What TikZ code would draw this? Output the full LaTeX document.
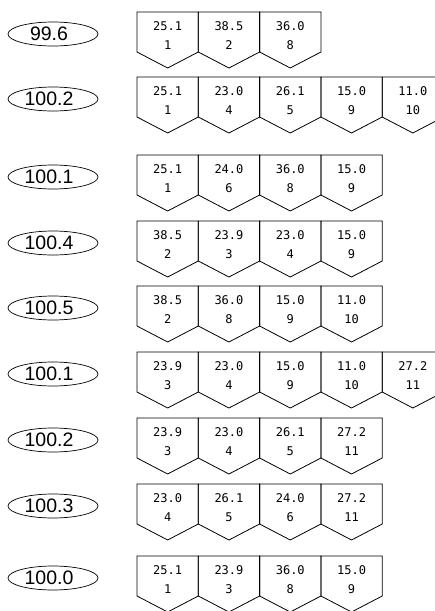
\documentclass[tikz,border=0pt]{standalone}
\usepackage{fontspec}
\usetikzlibrary{shapes.geometric}
\newfontfamily\cellfont{DejaVu Sans Mono}
\newfontfamily\ellfont{Liberation Sans}
\begin{document}
\begin{tikzpicture}[x=1pt,y=-1pt, line width=0.8pt,
  cellbox/.style={draw=black, line join=miter},
  celltext/.style={font=\cellfont\fontsize{12}{12}\selectfont, inner sep=0pt},
  scorebox/.style={draw, line width=0.7pt, ellipse, minimum width=90pt, minimum height=24pt, inner sep=0pt},
  scoretext/.style={font=\ellfont\fontsize{19.5}{19.5}\selectfont, inner sep=0pt}]
\useasboundingbox (0,0) rectangle (435,611);
\foreach \t/\s/\lst [count=\r] in {
  12/99.6/{25.1/1,38.5/2,36.0/8},
  77/100.2/{25.1/1,23.0/4,26.1/5,15.0/9,11.0/10},
  155/100.1/{25.1/1,24.0/6,36.0/8,15.0/9},
  221/100.4/{38.5/2,23.9/3,23.0/4,15.0/9},
  286/100.5/{38.5/2,36.0/8,15.0/9,11.0/10},
  352/100.1/{23.9/3,23.0/4,15.0/9,11.0/10,27.2/11},
  418/100.2/{23.9/3,23.0/4,26.1/5,27.2/11},
  484/100.3/{23.0/4,26.1/5,24.0/6,27.2/11},
  556/100.0/{25.1/1,23.9/3,36.0/8,15.0/9}}{
  \node[scorebox] (e\r) at (53,\t+22) {};
  \node[scoretext] (s\r) at (49,\t+22) {\s};
  \foreach \v/\n [count=\i] in \lst {
    \pgfmathsetmacro\xo{137+(\i-1)*61.3}
    \draw[cellbox] (\xo,\t) -- ++(61.3,0) -- ++(0,40) -- ++(-30.65,16) -- ++(-30.65,-16) -- cycle;
    \node[celltext] (v\r-\i) at (\xo+30.65,\t+14.5) {\v};
    \node[celltext] (n\r-\i) at (\xo+30.65,\t+33) {\n};
  }
}
\end{tikzpicture}
\end{document}
